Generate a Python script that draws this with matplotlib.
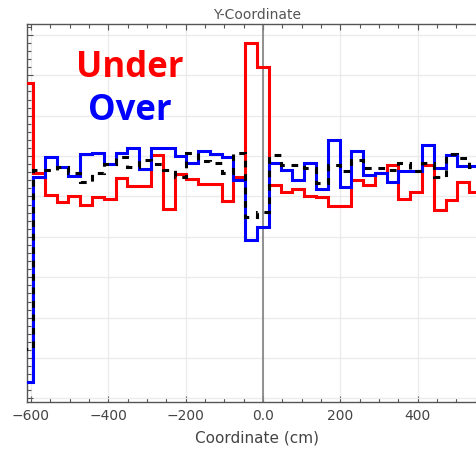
import numpy as np
import matplotlib
matplotlib.use("Agg")
import matplotlib.pyplot as plt
from matplotlib.ticker import MultipleLocator, FixedLocator

# ---- data ----
bin_lo = -625.0
bin_width = 30.49
under = [1.180, 0.957, 0.903, 0.887, 0.902, 0.880, 0.899, 0.893, 0.947, 0.926,
         0.926, 1.002, 0.868, 0.955, 0.943, 0.932, 0.932, 0.890, 0.949, 1.280,
         1.220, 0.929, 0.910, 0.919, 0.902, 0.899, 0.877, 0.877, 0.942, 0.929,
         0.957, 0.978, 0.894, 0.912, 0.978, 0.866, 0.891, 0.937, 0.911, 0.911]
over = [0.440, 0.949, 0.998, 0.974, 0.950, 1.005, 1.008, 0.981, 1.008, 1.019,
        0.968, 1.019, 1.020, 1.000, 0.982, 1.012, 1.005, 0.998, 0.940, 0.792,
        0.825, 0.983, 0.965, 0.941, 0.983, 0.919, 1.040, 0.924, 1.013, 0.954,
        0.959, 0.936, 0.964, 0.963, 1.027, 0.970, 1.002, 0.975, 0.975, 0.975]
nominal = [0.522, 0.965, 0.965, 0.973, 0.959, 0.936, 0.959, 0.980, 0.998, 0.973,
           0.990, 0.980, 0.965, 0.949, 1.007, 0.988, 0.982, 0.957, 1.007, 0.848,
           0.862, 1.002, 0.978, 0.978, 0.970, 0.933, 0.978, 0.963, 0.991, 0.970,
           0.970, 0.965, 0.982, 0.964, 0.982, 0.949, 1.004, 0.996, 0.972, 0.972]
xtick_values = [-600, -400, -200, 0, 200, 400]
xtick_labels = ["\u2212600", "\u2212400", "\u2212200", "0.0", "200", "400"]

edges = bin_lo + bin_width * np.arange(len(under) + 1)

fig = plt.figure(figsize=(4.77, 4.51), dpi=100)
W, H = 477.0, 451.0
left_px, right_px, top_px, bot_px = 26.7, 487.5, 24.0, 401.7
ax = fig.add_axes([left_px / W, 1 - bot_px / H, (right_px - left_px) / W, (bot_px - top_px) / H])

ax.stairs(under, edges, baseline=None, color="#ff0000", lw=2.2, zorder=3)
ax.stairs(over, edges, baseline=None, color="#0000ff", lw=2.2, zorder=4)
ax.stairs(nominal, edges, baseline=None, color="black", lw=2.2, zorder=5,
          linestyle=(0, (2.2, 2.2)))

ax.axvline(0, color="#808080", lw=1.2, zorder=2)

ax.set_xlim(-611, 581)
ax.set_ylim(0.392, 1.327)

ax.xaxis.set_major_locator(FixedLocator(xtick_values))
ax.set_xticklabels(xtick_labels)
ax.xaxis.set_minor_locator(MultipleLocator(50))
ax.yaxis.set_major_locator(MultipleLocator(0.1))
ax.yaxis.set_minor_locator(MultipleLocator(0.02))
ax.tick_params(axis="both", which="both", direction="in", top=True, right=True,
               colors="#555555", labelcolor="#444444", labelsize=10)
ax.tick_params(axis="both", which="major", length=4, width=0.8, pad=5)
ax.tick_params(axis="both", which="minor", length=3, width=0.8)
ax.tick_params(axis="y", which="both", labelleft=False)

ax.grid(True, which="major", color="#ebebeb", lw=1.0, zorder=0)
ax.set_axisbelow(True)
for s in ax.spines.values():
    s.set_color("#555555")
    s.set_linewidth(1.0)

ax.set_title("Y-Coordinate", fontsize=10, color="#555555", pad=3.5)
ax.set_xlabel("Coordinate (cm)", fontsize=11, color="#444444", labelpad=6)

ax.text(0.223, 0.861, "Under", transform=ax.transAxes, ha="center", va="baseline",
        fontsize=25, fontweight="bold", color="#ff0000", family="Open Sans")
ax.text(0.223, 0.746, "Over", transform=ax.transAxes, ha="center", va="baseline",
        fontsize=25, fontweight="bold", color="#0000ff", family="Open Sans")

fig.savefig("out.png", dpi=100)
